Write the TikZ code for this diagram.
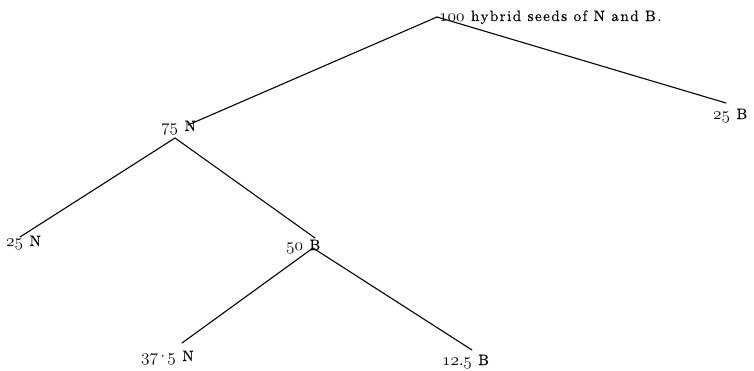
\documentclass[tikz,border=0pt]{standalone}
\usepackage{fontspec}
\setmainfont{lmroman10-regular.otf}
\usepackage{tikz}
\usetikzlibrary{calc}
\newcommand{\osn}[1]{{\fontsize{17}{18}\usefont{OML}{cmm}{m}{it}#1}}
\newcommand{\lblfont}{\fontsize{15}{18}\selectfont\addfontfeatures{LetterSpace=10,FakeBold=0.4}}

\begin{document}
\begin{tikzpicture}[
  x=1pt,y=-1pt,
  lbl/.style={inner sep=0pt,anchor=base west,font=\lblfont},
  br/.style={line width=1.1pt,line cap=round}
]
\useasboundingbox (0,0) rectangle (754,370);
\node[lbl] (seeds) at (439,21) {\osn{100} hybrid seeds of N and B.};
\node[lbl] (n75) at (161,131) {\osn{75} N};
\node[lbl] (n25b) at (713,119) {\osn{25} B};
\node[lbl] (n25n) at (6,246) {\osn{25} N};
\node[lbl] (n50) at (286,250) {\osn{50} B};
\node[lbl] (n375) at (141,361) {\osn{37}\kern-1.2pt\textperiodcentered\kern-1.2pt\osn{5} N};
\node[lbl] (n125) at (442,365) {\osn{12}.\osn{5} B};
\draw[br] ([shift={(-2,-4)}]seeds.base west) -- ([shift={(27,-6)}]n75.base west);
\draw[br] ([shift={(-2,-4)}]seeds.base west) -- ([shift={(13,-16)}]n25b.base west);
\draw[br] ([shift={(14,7)}]n75.base west) -- ([shift={(14,-9)}]n25n.base west);
\draw[br] ([shift={(14,7)}]n75.base west) -- ([shift={(29,-12)}]n50.base west);
\draw[br] ([shift={(27,-2)}]n50.base west) -- ([shift={(41,-18)}]n375.base west);
\draw[br] ([shift={(27,-2)}]n50.base west) -- ([shift={(30,-15)}]n125.base west);
\end{tikzpicture}
\end{document}
